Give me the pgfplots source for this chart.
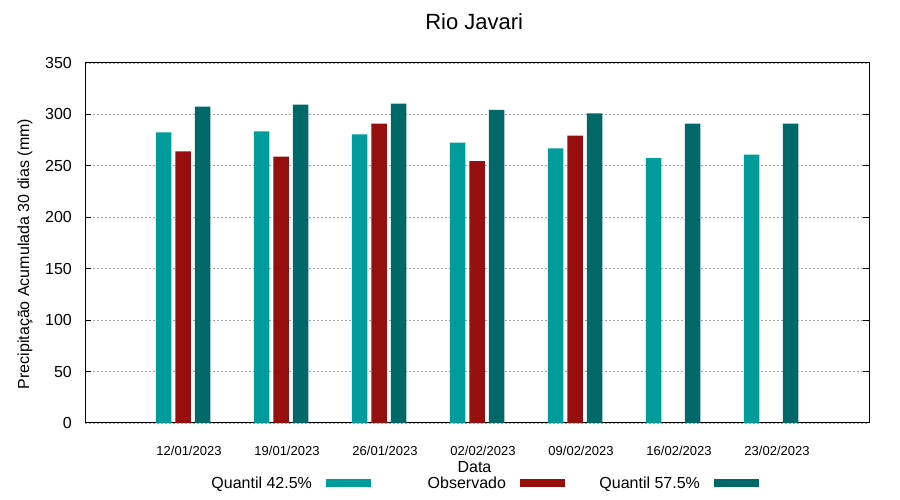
\documentclass[border=0pt]{standalone}
\usepackage{pgfplots}
\pgfplotsset{compat=1.18}
\usepackage{fontspec}
\setmainfont{Liberation Sans}
\definecolor{qlow}{HTML}{009B9B}
\definecolor{obs}{HTML}{960E0E}
\definecolor{qhigh}{HTML}{006868}
\definecolor{gridgray}{HTML}{A0A0A0}
\begin{document}
\begin{tikzpicture}
\useasboundingbox (0,0) rectangle (900bp,500bp);
\begin{axis}[
  at={(85bp,77bp)}, anchor=south west,
  scale only axis, width=784bp, height=360bp,
  xmin=-1, xmax=7, ymin=0, ymax=350,
  axis line style={line width=1bp},
  xtick={0,1,2,3,4,5,6},
  xticklabels={12/01/2023,19/01/2023,26/01/2023,02/02/2023,09/02/2023,16/02/2023,23/02/2023},
  xtick style={draw=none},
  ytick={0,50,...,350},
  ytick pos=both,
  tick align=inside,
  major tick length=6bp,
  ytick style={line width=1bp, black},
  ymajorgrids,
  major grid style={gridgray, line width=0.8bp, dash pattern=on 2bp off 2bp},
  /pgf/number format/assume math mode=true,
  yticklabel style={font=\fontsize{16bp}{18bp}\selectfont, inner sep=0pt, xshift=-13bp},
  xticklabel style={font=\fontsize{13bp}{15bp}\selectfont, inner sep=0pt, xshift=6bp, yshift=-22.5bp},
  title={Rio Javari},
  title style={font=\fontsize{22bp}{26bp}\selectfont, at={(axis description cs:0.4965,1.0972)}, anchor=center},
  xlabel={Data},
  xlabel style={font=\fontsize{16bp}{18bp}\selectfont, at={(axis description cs:0.4968,-0.1222)}, anchor=center},
  ylabel={Precipitação Acumulada 30 dias (mm)},
  ylabel style={font=\fontsize{16bp}{18bp}\selectfont, at={(axis description cs:-0.0765,0.4694)}, anchor=center},
  legend columns=3,
  legend plot pos=right,
  legend style={draw=none, fill=none, inner sep=0pt, outer sep=0pt,
    at={(axis description cs:0.5108,-0.1667)}, anchor=center,
    font=\fontsize{16bp}{18bp}\selectfont,
    nodes={inner sep=0pt},
    /tikz/every odd column/.append style={column sep=14bp},
    /tikz/every even column/.append style={column sep=35bp}},
]
\addplot[ybar, bar width=15.5bp, bar shift=-19.5bp, fill=qlow, draw=none,
  legend image code/.code={\fill[qlow] (0bp,-4bp) rectangle (45bp,4bp);}]
  coordinates {(0,282.5) (1,283.5) (2,280.5) (3,272.5) (4,267) (5,257.5) (6,261)};
\addlegendentry{\makebox[100bp][r]{Quantil 42.5\%}}
\addplot[ybar, bar width=15.5bp, bar shift=0bp, fill=obs, draw=none,
  legend image code/.code={\fill[obs] (0bp,-4bp) rectangle (45bp,4bp);}]
  coordinates {(0,264) (1,259) (2,291) (3,254.5) (4,279.5)};
\addlegendentry{\makebox[100bp][r]{Observado}}
\addplot[ybar, bar width=15.5bp, bar shift=19.5bp, fill=qhigh, draw=none,
  legend image code/.code={\fill[qhigh] (0bp,-4bp) rectangle (45bp,4bp);}]
  coordinates {(0,307.5) (1,309.5) (2,310.5) (3,304.5) (4,301) (5,291) (6,291)};
\addlegendentry{\makebox[100bp][r]{Quantil 57.5\%}}
\end{axis}
\end{tikzpicture}
\end{document}
